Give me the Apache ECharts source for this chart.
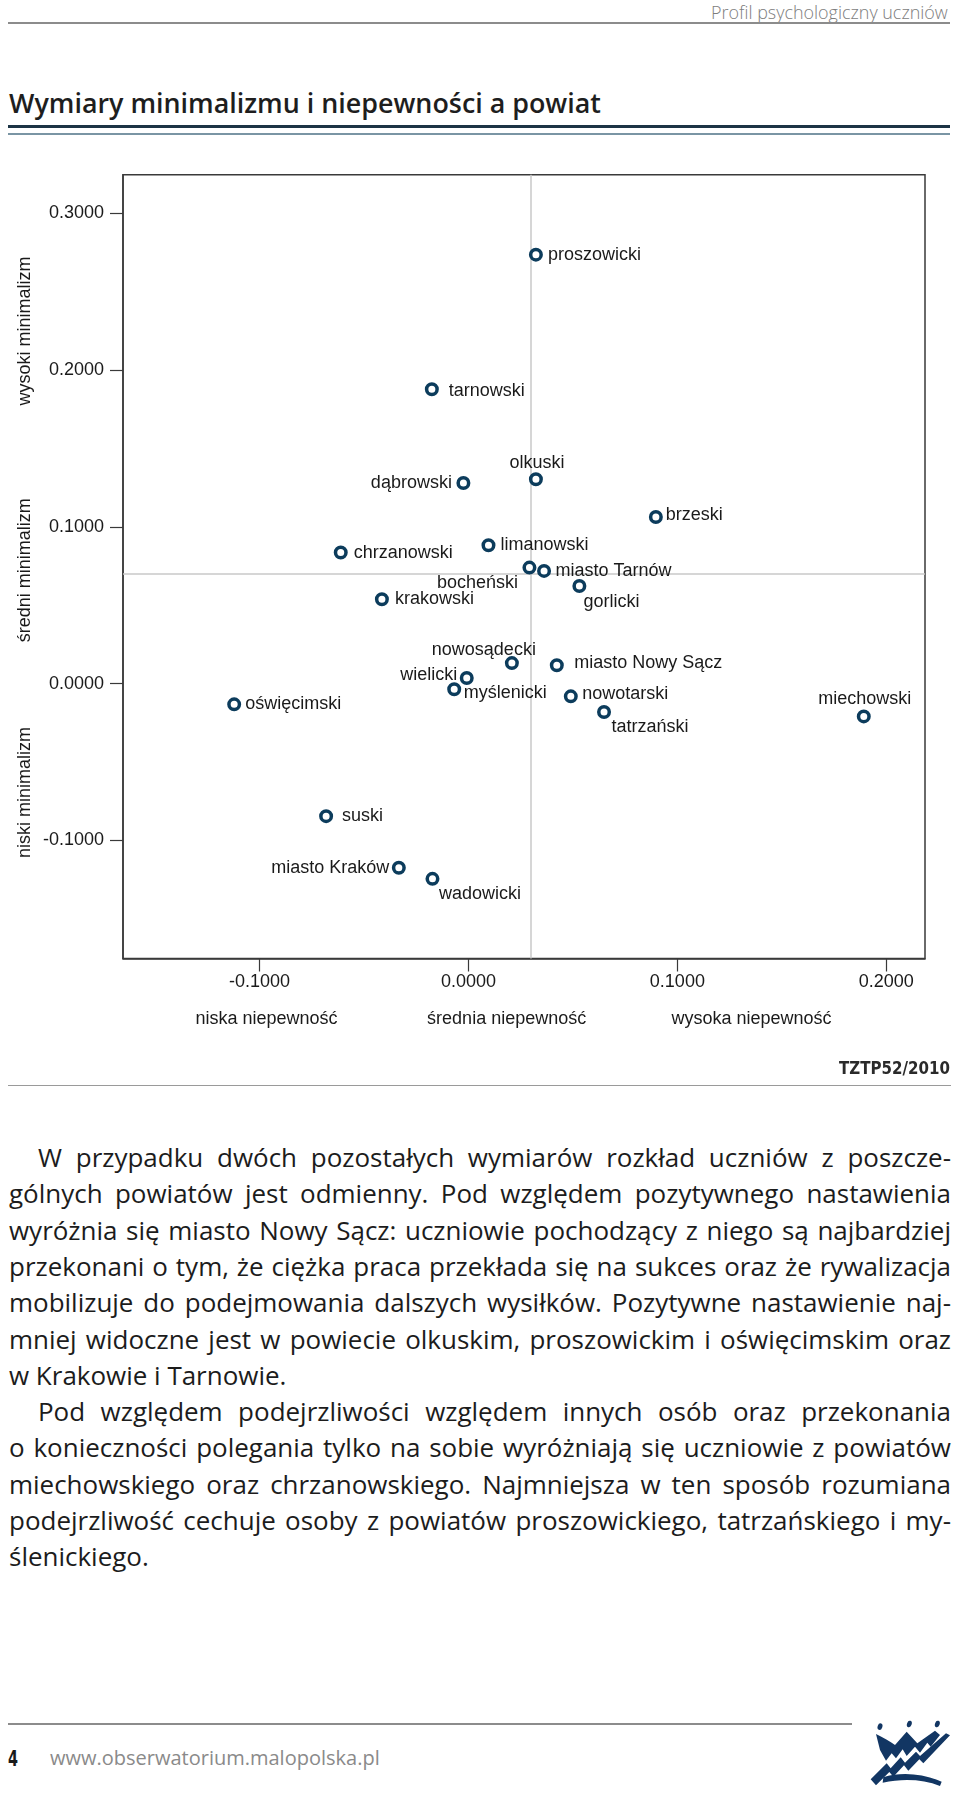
<!DOCTYPE html>
<html><head><meta charset="utf-8">
<script src="https://cdn.jsdelivr.net/npm/echarts@6/dist/echarts.min.js"></script>
<style>
html,body{margin:0;padding:0;background:#fff;}
#page{position:relative;width:960px;height:1794px;overflow:hidden;background:#fff;}
.abs{position:absolute;white-space:nowrap;line-height:1;}
.rule{position:absolute;}
.bl{position:absolute;white-space:nowrap;font-family:'Open Sans';color:#1c1c1c;}
</style></head><body><div id="page">
<div id="hdr" class="abs" style="font-family:'Open Sans';font-weight:300;font-size:18px;color:#7d7d7d;">Profil psychologiczny uczniów</div>
<div class="rule" style="left:8px;top:22px;width:942px;height:1.5px;background:#8c8c8c"></div>
<div id="title" class="abs" style="font-family:'Open Sans';font-weight:600;font-size:24px;color:#1e1e1e;">Wymiary minimalizmu i niepewności a powiat</div>
<div class="rule" style="left:8px;top:124.5px;width:942px;height:3px;background:#1c3445"></div>
<div class="rule" style="left:8px;top:132.5px;width:942px;height:2.5px;background:#7a95a4"></div>
<div id="chart" style="position:absolute;left:0;top:140px;width:960px;height:950px"></div>
<div id="src" class="abs" style="font-family:'DejaVu Sans Condensed','DejaVu Sans';font-weight:bold;font-size:17px;color:#2a2a2a;">TZTP52/2010</div>
<div class="rule" style="left:8px;top:1085px;width:943px;height:1px;background:#9a9a9a"></div>
<div id="body"></div>
<div class="rule" style="left:8px;top:1723px;width:844px;height:1.5px;background:#8c8c8c"></div>
<div id="pg" class="abs" style="font-family:'DejaVu Sans Condensed','DejaVu Sans';font-weight:bold;font-size:21px;color:#1a1a1a;">4</div>
<div id="url" class="abs" style="font-family:'Open Sans';font-size:20px;color:#8a8a8a;">www.obserwatorium.malopolska.pl</div>
<svg style="position:absolute;left:840px;top:1700px" width="120" height="94" viewBox="0 0 360 282">
<g fill="#123663">
<ellipse cx="120" cy="80" rx="7" ry="10" transform="rotate(20 120 80)"/>
<ellipse cx="208" cy="72" rx="7" ry="10" transform="rotate(20 208 72)"/>
<ellipse cx="292" cy="72" rx="7" ry="10" transform="rotate(20 292 72)"/>
<path d="M108,102 C130,112 150,125 165,135 L200,95 L232,130 L285,92 L300,105 L272,140 L262,128 L240,158 L225,140 L200,168 L188,148 L168,175 L155,160 L138,182 L120,150 Z"/>
<path d="M92,238 L140,190 L152,205 L182,172 L195,188 L228,155 L240,168 L318,100 L330,106 L250,190 L238,178 L205,212 L192,196 L160,230 L148,216 L108,256 Z"/>
<path d="M130,232 C180,215 250,220 305,245 L300,258 C250,238 190,235 128,248 Z"/>
</g></svg>
</div>
<script>
// ---- data ----
const names = ['proszowicki','tarnowski','dąbrowski','olkuski','brzeski','chrzanowski','limanowski','bocheński','miasto Tarnów','gorlicki','krakowski','nowosądecki','miasto Nowy Sącz','wielicki','myślenicki','nowotarski','tatrzański','oświęcimski','miechowski','suski','miasto Kraków','wadowicki'];
const niepewnosc = [0.0323,-0.0175,-0.0024,0.0323,0.0897,-0.0611,0.0096,0.0292,0.0362,0.0531,-0.0414,0.0208,0.0423,-0.0008,-0.0068,0.0490,0.0649,-0.1121,0.1892,-0.0681,-0.0333,-0.0172];
const minimalizm = [0.2736,0.1878,0.1280,0.1304,0.1063,0.0836,0.0883,0.0740,0.0719,0.0623,0.0538,0.0131,0.0117,0.0036,-0.0036,-0.0081,-0.0181,-0.0132,-0.0209,-0.0845,-0.1174,-0.1245];
const xTicks = [-0.1, 0, 0.1, 0.2];
const yTicks = [-0.1, 0, 0.1, 0.2, 0.3];
const meanX = 0.0268;
const meanY = 0.0745;
const xBandNames = ['niska niepewność','średnia niepewność','wysoka niepewność'];
const xBandAt = [-0.0966, 0.0183, 0.1355];
const yBandNames = ['niski minimalizm','średni minimalizm','wysoki minimalizm'];
const yBandAt = [-0.0694, 0.0723, 0.2249];

// ---- label placement (style) ----
const labelLayout = {
 'proszowicki':['left',12,0],'tarnowski':['left',17,2],'dąbrowski':['right',-11.5,0],
 'olkuski':['center',1,-16],'brzeski':['left',10,-2],'chrzanowski':['left',13,0],
 'limanowski':['left',12,0],'bocheński':['right',-11.5,15],'miasto Tarnów':['left',11.5,0],
 'gorlicki':['left',4,16],'krakowski':['left',13,0],'nowosądecki':['right',24,-13.5],
 'miasto Nowy Sącz':['left',17.5,-2],'wielicki':['right',-9.5,-3],'myślenicki':['left',9.5,4],
 'nowotarski':['left',11.5,-2],'tatrzański':['left',7.5,15.5],'oświęcimski':['left',11,0],
 'miechowski':['center',1,-17],'suski':['left',16,0],'miasto Kraków':['right',-9.5,0],
 'wadowicki':['left',6.5,15]
};

const FONT = "'Liberation Sans', Arial, sans-serif";
const TXT = '#1a1a1a';
const AX = '#3a3a3a';
const chart = echarts.init(document.getElementById('chart'));
const pts = names.map((n,i)=>{
  const L = labelLayout[n];
  return {name:n, value:[niepewnosc[i], minimalizm[i]],
    label:{align:L[0], offset:[L[1], L[2]]}};
});
chart.setOption({
  animation:false,
  grid:{left:123, right:35, top:34.7, bottom:131.5, show:true, borderColor:AX, borderWidth:1.5},
  xAxis:{type:'value', min:-0.1653, max:0.2185,
    splitLine:{show:false},
    axisLine:{show:true, onZero:false, lineStyle:{color:AX, width:1.5}},
    axisTick:{show:true, length:13, customValues:xTicks, lineStyle:{color:AX, width:1.2}},
    axisLabel:{customValues:xTicks, formatter:v=>Number(v).toFixed(4), margin:15, fontSize:18, color:TXT, fontFamily:FONT}},
  yAxis:{type:'value', min:-0.1753, max:0.3246,
    splitLine:{show:false},
    axisLine:{show:true, onZero:false, lineStyle:{color:AX, width:1.5}},
    axisTick:{show:true, length:13, customValues:yTicks, lineStyle:{color:AX, width:1.2}},
    axisLabel:{customValues:yTicks, formatter:v=>Number(v).toFixed(4), margin:19, fontSize:18, color:TXT, fontFamily:FONT}},
  series:[{type:'scatter', data:pts, symbol:'circle', symbolSize:10.5, z:5,
    itemStyle:{color:'#ffffff', borderColor:'#0c3c5c', borderWidth:3.5, opacity:1},
    label:{show:true, position:'inside', formatter:'{b}', verticalAlign:'middle', fontSize:18, color:TXT, fontFamily:FONT},
    emphasis:{disabled:true},
    markLine:{silent:true, symbol:'none', animation:false, z:1,
      lineStyle:{color:'#c9c9c9', width:1.5, type:'solid'}, label:{show:false},
      data:[{xAxis:meanX},{yAxis:meanY}]}
  }]
});
const g = [];
const gridBottomPx = chart.convertToPixel({gridIndex:0}, [0, -0.1753])[1];
xBandNames.forEach((t,i)=>{
  const px = chart.convertToPixel({gridIndex:0}, [xBandAt[i], 0])[0];
  g.push({type:'text', x:px, y:gridBottomPx+61, style:{text:t, font:'18px '+FONT, fill:TXT, align:'center', verticalAlign:'middle'}});
});
yBandNames.forEach((t,i)=>{
  const py = chart.convertToPixel({gridIndex:0}, [0, yBandAt[i]])[1];
  g.push({type:'text', x:25, y:py, rotation:Math.PI/2, style:{text:t, font:'18px '+FONT, fill:TXT, align:'center', verticalAlign:'middle'}});
});
chart.setOption({graphic:g});

// ---- page text helpers ----
function fitSize(el, w){ const r = el.getBoundingClientRect().width; const fs = parseFloat(getComputedStyle(el).fontSize); el.style.fontSize = (fs*w/r)+'px'; }
function fitScaleX(el, w){ const r = el.getBoundingClientRect().width; el.style.transformOrigin='left center'; el.style.transform='scaleX('+(w/r)+')'; }
function placeLeft(el, left, cy){ const h = el.getBoundingClientRect().height; el.style.left = left+'px'; el.style.top=(cy-h/2)+'px'; }
const hdr = document.getElementById('hdr'); fitSize(hdr, 237); placeLeft(hdr, 711, 12.5);
const title = document.getElementById('title'); fitSize(title, 592); placeLeft(title, 9, 103);
const src = document.getElementById('src'); placeLeft(src, 839, 1068); fitScaleX(src, 111);
const pg = document.getElementById('pg'); placeLeft(pg, 8, 1759); fitScaleX(pg, 10);
const url = document.getElementById('url'); fitSize(url, 330); placeLeft(url, 50, 1758);

// ---- body text (explicit lines as in the original) ----
const bodyLines = [
 ['W przypadku dwóch pozostałych wymiarów rozkład uczniów z poszcze-', 1, 1],
 ['gólnych powiatów jest odmienny. Pod względem pozytywnego nastawienia', 0, 1],
 ['wyróżnia się miasto Nowy Sącz: uczniowie pochodzący z niego są najbardziej', 0, 1],
 ['przekonani o tym, że ciężka praca przekłada się na sukces oraz że rywalizacja', 0, 1],
 ['mobilizuje do podejmowania dalszych wysiłków. Pozytywne nastawienie naj-', 0, 1],
 ['mniej widoczne jest w powiecie olkuskim, proszowickim i oświęcimskim oraz', 0, 1],
 ['w Krakowie i Tarnowie.', 0, 0],
 ['Pod względem podejrzliwości względem innych osób oraz przekonania', 1, 1],
 ['o konieczności polegania tylko na sobie wyróżniają się uczniowie z powiatów', 0, 1],
 ['miechowskiego oraz chrzanowskiego. Najmniejsza w ten sposób rozumiana', 0, 1],
 ['podejrzliwość cechuje osoby z powiatów proszowickiego, tatrzańskiego i my-', 0, 1],
 ['ślenickiego.', 0, 0]
];
const body = document.getElementById('body');
const RIGHT = 951, LEFT = 9, IND = 38, Y0 = 1158, LH = 36.3;
const els = bodyLines.map(([t])=>{ const d=document.createElement('div'); d.className='bl'; d.textContent=t; d.style.fontSize='20px'; d.style.lineHeight='1'; body.appendChild(d); return d; });
let ratio = 0;
els.forEach((d,i)=>{ if(bodyLines[i][2]){ const avail = RIGHT - (bodyLines[i][1]?IND:LEFT); ratio = Math.max(ratio, d.getBoundingClientRect().width/avail); } });
const FS = 20/ratio*0.985;
els.forEach((d,i)=>{
  d.style.fontSize = FS+'px';
  const left = bodyLines[i][1]?IND:LEFT;
  const h = d.getBoundingClientRect().height;
  d.style.left = left+'px'; d.style.top = (Y0 + i*LH - h/2)+'px';
  if(bodyLines[i][2]){
    const w = d.getBoundingClientRect().width;
    const sp = (bodyLines[i][0].match(/ /g)||[]).length;
    d.style.wordSpacing = ((RIGHT-left-w)/sp)+'px';
  }
});
</script>
</body></html>
